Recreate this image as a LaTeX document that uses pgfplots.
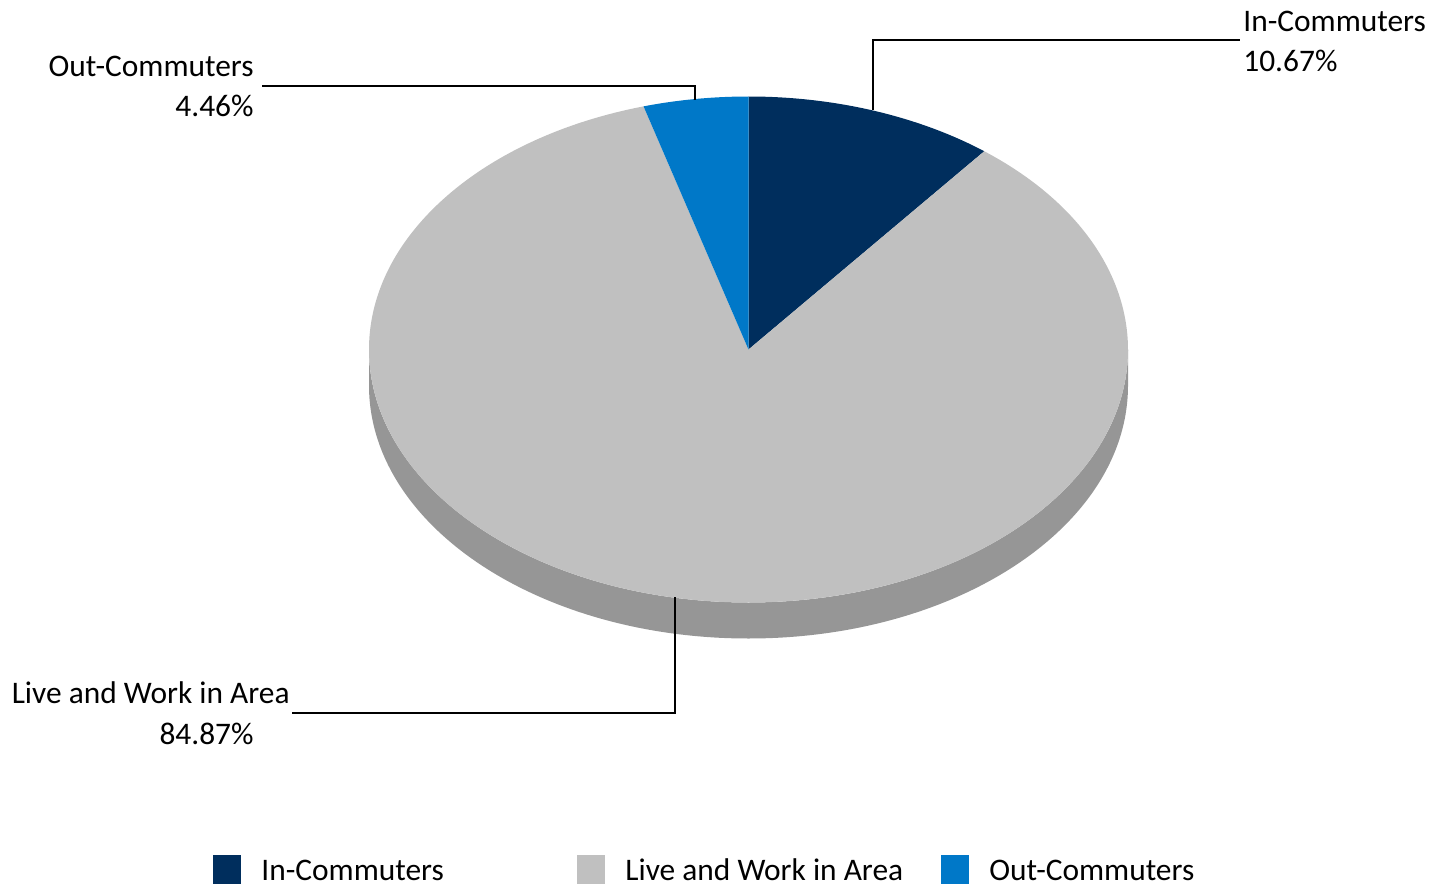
\documentclass[border=0pt]{standalone}
\usepackage{pgfplots}
\usepackage{pgfplotstable}
\pgfplotsset{compat=1.18}
\usepackage{fontspec}
\setmainfont{Carlito}
\definecolor{cIn}{HTML}{002E5D}
\definecolor{cLive}{HTML}{C0C0C0}
\definecolor{cOut}{HTML}{0078C8}
\definecolor{cSide}{HTML}{969696}
\pgfplotstableread{
label value
In 10.67
Live 84.87
Out 4.46
}\piedata
\begin{document}
\begin{tikzpicture}
\pgfplotstablegetelem{0}{value}\of\piedata \pgfmathsetmacro\pa{\pgfplotsretval}
\pgfplotstablegetelem{1}{value}\of\piedata \pgfmathsetmacro\pb{\pgfplotsretval}
\pgfplotstablegetelem{2}{value}\of\piedata \pgfmathsetmacro\pc{\pgfplotsretval}
\pgfmathsetmacro\aA{90}
\pgfmathsetmacro\aB{\aA-3.6*\pa}
\pgfmathsetmacro\aC{\aB-3.6*\pb}
\pgfmathsetmacro\aD{\aC-3.6*\pc}
\def\cx{748.5}\def\cy{349.5}\def\rx{379.5}\def\ry{253}\def\dep{36}
\begin{axis}[
  width=723pt, height=444pt, scale only axis,
  xmin=0, xmax=1446, ymin=0, ymax=888, y dir=reverse,
  hide axis, clip=false]
\path (rel axis cs:0,0) rectangle (rel axis cs:1,1);
% side
\fill[cSide] (axis cs:{\cx-\rx},\cy) -- (axis cs:{\cx-\rx},{\cy+\dep})
  arc[start angle=180, end angle=360, x radius=\rx*0.5pt, y radius=\ry*0.5pt]
  -- (axis cs:{\cx+\rx},\cy)
  arc[start angle=0, end angle=-180, x radius=\rx*0.5pt, y radius=\ry*0.5pt] -- cycle;
% wedges
\fill[cIn] (axis cs:\cx,\cy) -- (axis cs:{\cx+\rx*cos(\aA)},{\cy-\ry*sin(\aA)})
  arc[start angle=\aA, end angle=\aB, x radius=\rx*0.5pt, y radius=\ry*0.5pt] -- cycle;
\fill[cLive] (axis cs:\cx,\cy) -- (axis cs:{\cx+\rx*cos(\aB)},{\cy-\ry*sin(\aB)})
  arc[start angle=\aB, end angle=\aC, x radius=\rx*0.5pt, y radius=\ry*0.5pt] -- cycle;
\fill[cOut] (axis cs:\cx,\cy) -- (axis cs:{\cx+\rx*cos(\aC)},{\cy-\ry*sin(\aC)})
  arc[start angle=\aC, end angle=\aD, x radius=\rx*0.5pt, y radius=\ry*0.5pt] -- cycle;
% leader lines
\draw[black, line width=0.7pt] (axis cs:873,110) -- (axis cs:873,40) -- (axis cs:1240,40);
\draw[black, line width=0.7pt] (axis cs:695,100) -- (axis cs:695,86) -- (axis cs:262,86);
\draw[black, line width=0.7pt] (axis cs:675,597) -- (axis cs:675,713) -- (axis cs:292,713);
% labels
\tikzset{lab/.style={inner sep=0pt, font=\fontsize{15.7}{19.5}\selectfont}}
\node[lab, anchor=base west] at (axis cs:1243,32) {In-Commuters};
\node[lab, anchor=base west] at (axis cs:1243,72) {10.67\%};
\node[lab, anchor=base east] at (axis cs:254,77) {Out-Commuters};
\node[lab, anchor=base east] at (axis cs:254,117) {4.46\%};
\node[lab, anchor=base east] at (axis cs:290,703) {Live and Work in Area};
\node[lab, anchor=base east] at (axis cs:254,744) {84.87\%};
% legend
\fill[cIn] (axis cs:213,855) rectangle (axis cs:241,884);
\fill[cLive] (axis cs:577,855) rectangle (axis cs:605,884);
\fill[cOut] (axis cs:941,855) rectangle (axis cs:969,884);
\node[lab, anchor=base west] at (axis cs:261,880) {In-Commuters};
\node[lab, anchor=base west] at (axis cs:625,880) {Live and Work in Area};
\node[lab, anchor=base west] at (axis cs:989,880) {Out-Commuters};
\end{axis}
\end{tikzpicture}
\end{document}
